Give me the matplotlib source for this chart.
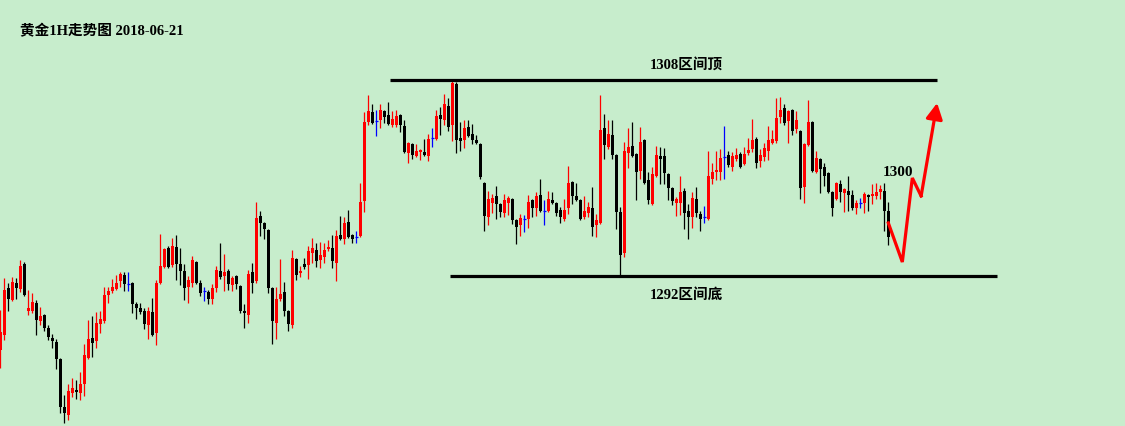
import numpy as np
import matplotlib
matplotlib.use('Agg')
import matplotlib.pyplot as plt

plt.rcParams['font.family'] = ['Liberation Serif', 'Noto Sans CJK SC', 'DejaVu Sans']

# 黄金 1H 蜡烛数据
opens = [
    1285.96, 1287.18, 1291.02, 1290.04, 1291.43, 1290.94, 1292.98, 1289.14, 1289.14, 1289.80,
    1288.33, 1288.82, 1287.76, 1286.94, 1286.61, 1285.22, 1281.31, 1280.65, 1282.45, 1282.69,
    1282.45, 1283.18, 1285.31, 1286.94, 1286.69, 1288.08, 1288.33, 1290.45, 1290.78, 1290.94,
    1291.59, 1292.08, 1291.35, 1291.43, 1289.71, 1289.39, 1289.14, 1288.00, 1289.06, 1287.35,
    1291.43, 1292.73, 1294.29, 1292.90, 1294.37, 1292.98, 1292.41, 1291.10, 1291.43, 1293.14,
    1291.43, 1290.78, 1290.69, 1290.12, 1291.02, 1292.41, 1292.00, 1292.41, 1291.27, 1292.00,
    1291.18, 1289.14, 1288.82, 1292.33, 1291.59, 1296.90, 1296.33, 1295.76, 1291.02, 1288.16,
    1290.12, 1290.69, 1289.14, 1288.00, 1293.39, 1292.24, 1292.98, 1292.90, 1293.88, 1294.12,
    1293.31, 1293.55, 1294.20, 1294.29, 1293.06, 1295.35, 1295.02, 1296.41, 1295.35, 1295.18,
    1295.27, 1298.12, 1304.57, 1305.39, 1304.65, 1304.73, 1305.47, 1305.14, 1304.33, 1304.33,
    1305.14, 1304.24, 1302.04, 1302.78, 1301.80, 1302.12, 1302.12, 1301.80, 1303.27, 1303.18,
    1305.14, 1304.73, 1305.88, 1304.33, 1307.67, 1303.27, 1303.10, 1304.16, 1303.59, 1303.10,
    1302.78, 1299.59, 1296.82, 1297.96, 1298.53, 1297.88, 1297.14, 1297.96, 1298.29, 1296.57,
    1296.16, 1296.65, 1296.65, 1298.20, 1297.55, 1298.61, 1297.31, 1297.31, 1298.20, 1297.96,
    1297.39, 1296.65, 1297.55, 1299.67, 1298.53, 1298.20, 1296.82, 1297.14, 1297.55, 1296.16,
    1296.33, 1304.08, 1302.53, 1303.51, 1301.88, 1297.22, 1293.88, 1302.04, 1302.61, 1301.96,
    1300.57, 1303.10, 1299.84, 1297.88, 1300.16, 1301.80, 1301.80, 1300.33, 1299.18, 1297.96,
    1297.96, 1298.94, 1297.31, 1296.82, 1298.29, 1297.06, 1296.82, 1296.65, 1299.92, 1300.49,
    1300.49, 1301.71, 1301.88, 1300.90, 1301.55, 1301.96, 1301.14, 1302.04, 1302.37, 1303.18,
    1301.39, 1301.71, 1302.20, 1302.86, 1303.02, 1304.98, 1305.71, 1304.65, 1305.55, 1304.00,
    1303.84, 1299.27, 1302.69, 1304.57, 1300.49, 1301.55, 1300.90, 1300.41, 1298.86, 1298.29,
    1299.51, 1298.78, 1298.94, 1298.61, 1297.55, 1297.96, 1297.96, 1298.61, 1298.53, 1298.53,
    1298.86, 1298.94, 1297.31]

highs = [
    1289.22, 1291.84, 1291.43, 1291.92, 1291.84, 1293.31, 1293.14, 1290.86, 1290.61, 1290.04,
    1289.47, 1288.90, 1288.00, 1287.27, 1286.86, 1285.31, 1282.29, 1283.18, 1283.67, 1283.51,
    1284.16, 1286.45, 1288.41, 1288.73, 1289.06, 1289.14, 1291.10, 1291.10, 1291.76, 1292.08,
    1292.33, 1292.33, 1292.33, 1291.51, 1289.88, 1289.80, 1289.39, 1289.47, 1290.20, 1291.67,
    1295.43, 1294.29, 1294.45, 1295.10, 1295.35, 1294.29, 1292.98, 1292.00, 1293.63, 1293.22,
    1291.67, 1291.10, 1290.86, 1291.35, 1292.82, 1294.69, 1293.80, 1292.57, 1292.00, 1292.08,
    1291.27, 1289.71, 1292.49, 1293.06, 1298.04, 1297.31, 1296.41, 1295.84, 1291.10, 1291.10,
    1293.39, 1291.51, 1289.22, 1294.12, 1293.47, 1292.82, 1293.47, 1294.45, 1295.10, 1294.69,
    1294.78, 1294.69, 1294.94, 1295.35, 1295.76, 1296.90, 1296.82, 1297.39, 1295.43, 1295.67,
    1299.59, 1305.39, 1306.78, 1306.04, 1305.55, 1306.04, 1305.55, 1306.20, 1305.47, 1305.55,
    1305.22, 1304.73, 1302.94, 1302.86, 1302.78, 1302.37, 1303.18, 1303.59, 1304.08, 1305.55,
    1305.80, 1306.86, 1306.53, 1307.92, 1307.84, 1304.57, 1304.73, 1304.73, 1304.41, 1303.51,
    1302.86, 1299.67, 1298.94, 1298.69, 1299.35, 1297.96, 1298.69, 1298.53, 1298.37, 1296.65,
    1297.06, 1296.98, 1298.61, 1298.29, 1298.86, 1299.92, 1298.20, 1298.94, 1298.86, 1298.04,
    1297.63, 1298.29, 1300.98, 1299.75, 1299.59, 1298.29, 1298.53, 1298.04, 1299.27, 1297.06,
    1306.78, 1305.22, 1304.73, 1304.73, 1301.96, 1297.63, 1302.94, 1304.08, 1304.57, 1302.04,
    1304.16, 1303.18, 1300.49, 1300.90, 1302.61, 1302.53, 1302.45, 1300.41, 1299.27, 1298.45,
    1300.16, 1299.18, 1297.88, 1298.86, 1299.27, 1297.31, 1297.71, 1302.20, 1301.22, 1302.20,
    1302.37, 1304.24, 1302.20, 1302.12, 1302.45, 1302.12, 1302.53, 1303.27, 1304.82, 1303.35,
    1302.37, 1302.86, 1304.24, 1303.92, 1306.53, 1306.61, 1306.04, 1305.55, 1305.63, 1305.47,
    1303.92, 1302.86, 1306.37, 1304.65, 1302.20, 1301.63, 1301.22, 1300.49, 1298.94, 1299.67,
    1299.84, 1299.18, 1300.16, 1299.02, 1298.20, 1298.37, 1298.86, 1298.69, 1299.51, 1299.59,
    1299.43, 1299.59, 1298.04]

lows = [
    1284.49, 1286.78, 1289.14, 1289.96, 1290.12, 1290.69, 1290.37, 1288.82, 1288.98, 1287.18,
    1288.00, 1287.51, 1286.78, 1286.12, 1284.41, 1280.82, 1280.00, 1280.24, 1282.12, 1281.96,
    1281.88, 1282.20, 1285.22, 1285.39, 1286.12, 1287.35, 1288.16, 1289.80, 1290.61, 1290.86,
    1291.10, 1290.78, 1290.78, 1288.98, 1288.49, 1288.90, 1287.67, 1286.86, 1287.10, 1286.37,
    1291.35, 1292.65, 1292.65, 1292.73, 1291.67, 1291.27, 1290.04, 1289.80, 1291.10, 1291.35,
    1290.37, 1289.96, 1289.71, 1289.71, 1290.69, 1291.76, 1290.78, 1290.86, 1290.78, 1290.94,
    1288.98, 1287.76, 1288.16, 1290.61, 1291.43, 1295.27, 1295.02, 1290.61, 1286.45, 1286.86,
    1289.96, 1288.73, 1287.51, 1287.76, 1291.67, 1291.92, 1292.57, 1291.76, 1293.06, 1292.73,
    1292.65, 1293.06, 1294.04, 1292.65, 1291.59, 1294.94, 1294.61, 1295.10, 1294.69, 1294.69,
    1295.18, 1297.22, 1304.33, 1304.41, 1303.43, 1304.08, 1304.49, 1304.33, 1304.16, 1304.16,
    1303.76, 1302.04, 1301.22, 1301.55, 1301.71, 1301.47, 1301.80, 1301.39, 1302.53, 1303.10,
    1303.51, 1304.33, 1303.84, 1303.02, 1302.04, 1302.20, 1302.45, 1303.35, 1302.78, 1302.78,
    1299.92, 1295.67, 1296.16, 1297.14, 1296.65, 1296.82, 1296.82, 1296.98, 1296.24, 1294.61,
    1295.27, 1295.59, 1295.92, 1296.82, 1296.90, 1297.22, 1296.16, 1297.22, 1297.88, 1296.90,
    1296.33, 1296.49, 1297.06, 1297.88, 1298.12, 1296.57, 1296.65, 1296.82, 1295.27, 1295.18,
    1296.24, 1301.55, 1302.37, 1301.55, 1295.84, 1291.92, 1293.55, 1300.82, 1301.71, 1298.20,
    1299.92, 1299.51, 1297.88, 1297.80, 1300.08, 1299.51, 1299.51, 1298.20, 1297.80, 1296.90,
    1296.98, 1295.84, 1295.02, 1295.92, 1296.82, 1295.67, 1296.33, 1296.57, 1299.51, 1299.84,
    1299.84, 1299.92, 1300.90, 1300.57, 1301.39, 1300.82, 1301.06, 1301.88, 1302.12, 1300.82,
    1300.90, 1301.39, 1301.47, 1302.78, 1302.86, 1304.49, 1304.33, 1302.86, 1303.51, 1303.67,
    1298.29, 1297.96, 1302.61, 1300.49, 1300.41, 1298.78, 1299.35, 1298.78, 1296.90, 1298.20,
    1298.04, 1297.22, 1297.31, 1297.39, 1297.06, 1297.55, 1297.14, 1297.31, 1297.88, 1298.29,
    1298.29, 1295.67, 1294.53]

closes = [
    1287.43, 1290.86, 1290.12, 1291.51, 1291.02, 1292.82, 1290.45, 1289.39, 1289.88, 1288.41,
    1288.73, 1287.76, 1287.02, 1286.69, 1285.22, 1281.31, 1280.82, 1282.61, 1282.86, 1282.53,
    1283.18, 1285.55, 1286.86, 1286.53, 1288.16, 1288.49, 1290.45, 1290.78, 1291.10, 1291.43,
    1292.16, 1291.35, 1291.35, 1289.71, 1289.39, 1289.06, 1288.08, 1289.14, 1287.18, 1291.43,
    1292.82, 1294.20, 1292.73, 1294.45, 1292.98, 1292.41, 1291.02, 1291.67, 1293.31, 1291.43,
    1290.61, 1290.78, 1290.12, 1291.02, 1292.49, 1291.92, 1292.33, 1291.35, 1291.84, 1291.35,
    1289.14, 1288.98, 1292.16, 1291.43, 1296.73, 1296.33, 1295.84, 1291.02, 1288.33, 1290.12,
    1290.53, 1289.14, 1288.08, 1293.47, 1292.08, 1292.41, 1292.73, 1294.04, 1294.29, 1293.22,
    1293.71, 1294.12, 1294.37, 1293.22, 1295.27, 1295.02, 1296.33, 1295.18, 1295.02, 1295.18,
    1298.04, 1304.57, 1305.47, 1304.49, 1304.65, 1305.55, 1304.98, 1304.41, 1304.82, 1305.06,
    1304.33, 1302.12, 1302.86, 1301.88, 1302.20, 1302.29, 1301.88, 1303.18, 1303.27, 1305.06,
    1304.82, 1306.04, 1304.16, 1307.76, 1303.10, 1303.02, 1304.08, 1303.43, 1303.10, 1302.86,
    1300.08, 1296.90, 1298.29, 1298.37, 1297.88, 1297.22, 1298.20, 1298.37, 1296.57, 1296.00,
    1296.73, 1296.65, 1298.04, 1297.55, 1298.53, 1297.31, 1297.31, 1298.29, 1297.96, 1297.14,
    1296.82, 1297.39, 1299.59, 1298.53, 1298.20, 1296.65, 1297.31, 1297.63, 1296.00, 1296.57,
    1303.92, 1302.69, 1303.59, 1301.88, 1297.22, 1293.71, 1302.20, 1302.53, 1301.80, 1300.49,
    1302.94, 1299.59, 1298.20, 1300.33, 1301.88, 1301.55, 1300.41, 1299.18, 1298.12, 1298.29,
    1298.86, 1297.14, 1296.82, 1298.37, 1297.14, 1296.65, 1296.82, 1300.16, 1300.49, 1300.65,
    1301.63, 1301.71, 1301.06, 1301.80, 1301.88, 1300.90, 1301.96, 1302.29, 1303.10, 1301.22,
    1301.88, 1302.45, 1303.10, 1303.18, 1304.90, 1305.55, 1304.49, 1305.47, 1303.84, 1304.73,
    1299.18, 1302.78, 1304.57, 1300.57, 1301.63, 1300.73, 1300.16, 1298.86, 1297.55, 1299.59,
    1298.86, 1299.10, 1298.61, 1297.55, 1297.96, 1297.96, 1298.69, 1298.45, 1298.69, 1298.86,
    1299.10, 1297.31, 1295.18]

# 预测走势 (red path drawn on the chart)
path_x = [223, 226.5, 229, 231.2]
path_y = [1296.33, 1293.14, 1300.00, 1298.53]
arrow_tip = (235.2, 1306.12)

top_level, bottom_level = 1308, 1292
title = '黄金1H走势图 2018-06-21'

bg = '#c7edcc'
fig = plt.figure(figsize=(11.25, 4.26), dpi=100, facecolor=bg)
ax = fig.add_axes([0, 0, 1, 1], facecolor=bg)

o = np.array(opens)
h = np.array(highs)
l = np.array(lows)
c = np.array(closes)
x = np.arange(1, len(o) + 1)

colors = np.where(c > o, '#ff0000', np.where(c < o, '#000000', '#0000ff'))

ax.vlines(x, l, h, colors=colors, linewidth=0.9)
body = np.abs(c - o)
solid = body > 0
ax.bar(x[solid], body[solid], bottom=np.minimum(o, c)[solid], width=0.7,
       color=colors[solid], linewidth=0)
doji = ~solid
ax.hlines(o[doji], x[doji] - 0.4, x[doji] + 0.4, colors='#0000ff', linewidth=0.9)

# 区间上下沿
ax.hlines(top_level, 98.4, 235.2, colors='black', linewidth=2.3)
ax.hlines(bottom_level, 113.4, 250.2, colors='black', linewidth=2.3)
ax.text(172.6, 1309.2, '1308区间顶', ha='center', va='center', fontsize=10.5, fontweight='bold')
ax.text(172.6, 1290.45, '1292区间底', ha='center', va='center', fontsize=10.5, fontweight='bold')
ax.text(225.4, 1300.45, '1300', ha='center', va='center', fontsize=11, fontweight='bold')

# 红色箭头
ax.plot(path_x, path_y, color='#ff0000', linewidth=2.3, solid_joinstyle='miter')
ax.annotate('', xy=arrow_tip, xytext=(path_x[-1], path_y[-1]),
            arrowprops=dict(arrowstyle='-|>,head_length=0.95,head_width=0.5',
                            color='#ff0000', lw=2.3, mutation_scale=10,
                            shrinkA=0, shrinkB=0))

fig.text(20 / 1125, 1 - 31 / 426, title, ha='left', va='center', fontsize=10.5, fontweight='bold')

ax.set_xlim(0.9175, 282.17)
ax.set_ylim(1279.755, 1314.53)
ax.axis('off')

fig.savefig('out.png', dpi=100, facecolor=bg)
